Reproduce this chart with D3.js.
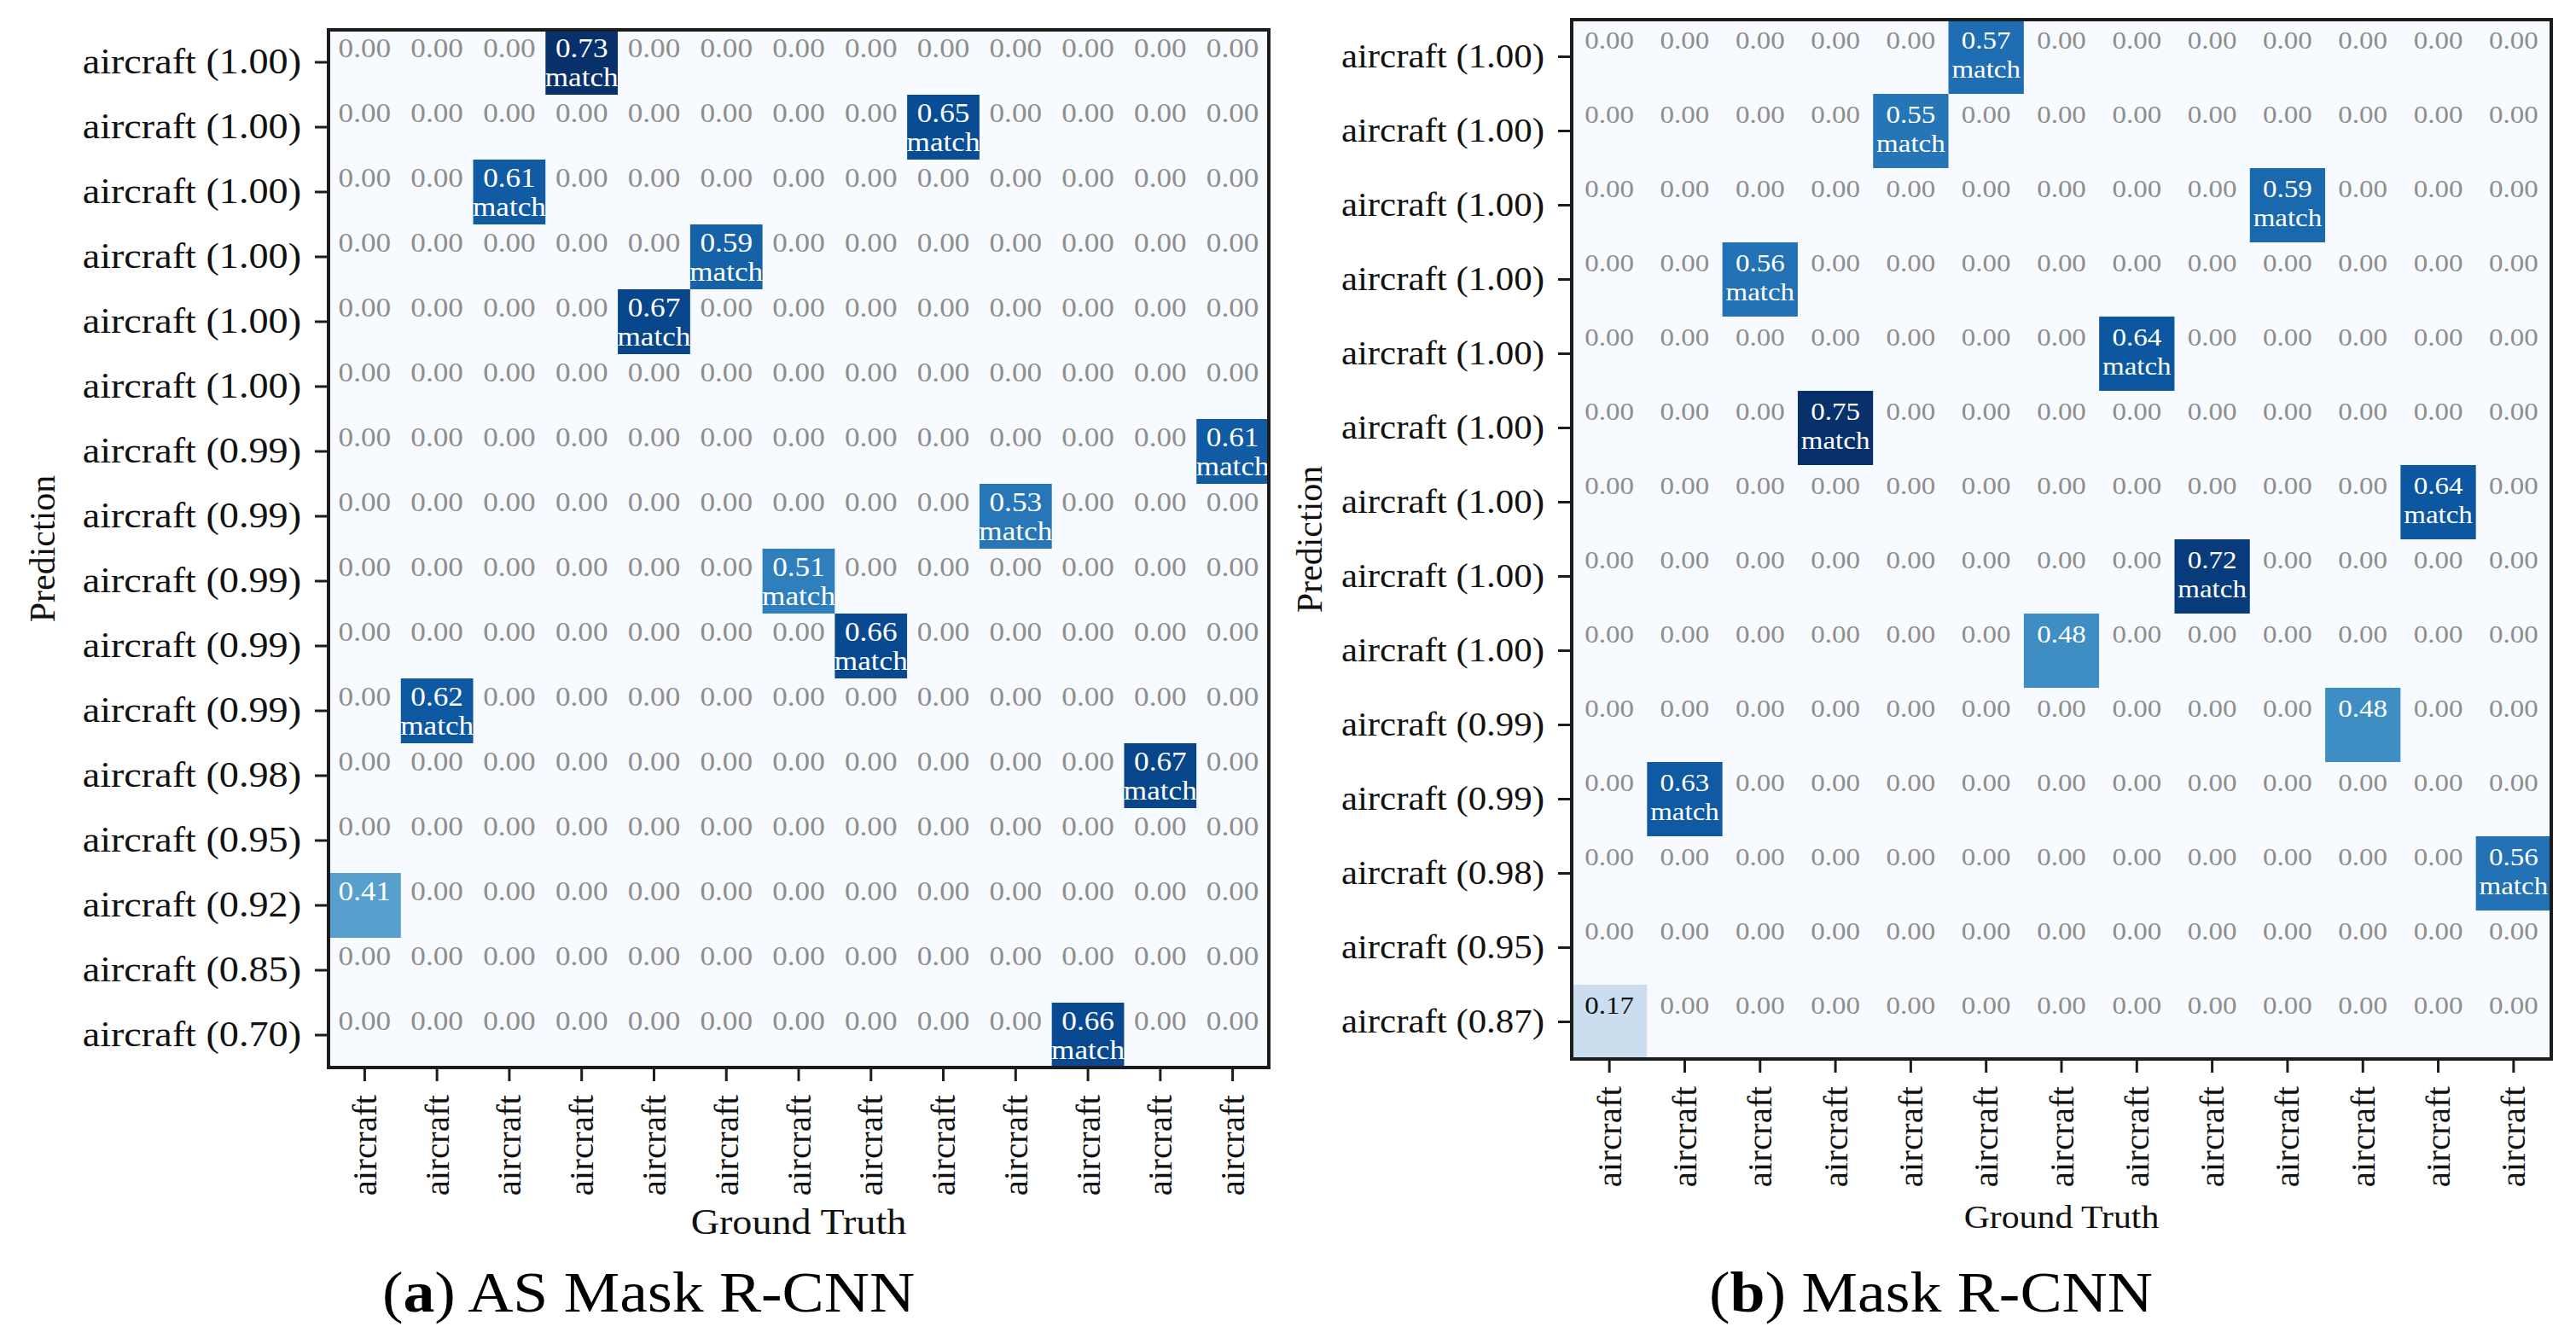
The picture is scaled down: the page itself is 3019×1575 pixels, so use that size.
<!DOCTYPE html>
<html>
<head>
<meta charset="utf-8">
<script src="https://cdn.jsdelivr.net/npm/d3@7"></script>
<style>
  html, body { margin: 0; padding: 0; background: #ffffff; }
  svg { display: block; }
  text { font-family: "Liberation Serif", "Times New Roman", serif; }
</style>
</head>
<body>
<svg id="chart" width="3019" height="1575"></svg>
<script>
// ---------------- DATA ----------------
// Panel (a) AS Mask R-CNN: prediction rows (confidence), 13 ground-truth columns
const aRowLabels = ["aircraft (1.00)","aircraft (1.00)","aircraft (1.00)","aircraft (1.00)","aircraft (1.00)","aircraft (1.00)",
  "aircraft (0.99)","aircraft (0.99)","aircraft (0.99)","aircraft (0.99)","aircraft (0.99)","aircraft (0.98)",
  "aircraft (0.95)","aircraft (0.92)","aircraft (0.85)","aircraft (0.70)"];
// column index of the single non-zero IoU in each row (null = no overlap)
const aHitCol = [3, 8, 2, 5, 4, null, 12, 9, 6, 7, 1, 11, null, 0, null, 10];
const aHitVal = [0.73, 0.65, 0.61, 0.59, 0.67, null, 0.61, 0.53, 0.51, 0.66, 0.62, 0.67, null, 0.41, null, 0.66];

// Panel (b) Mask R-CNN
const bRowLabels = ["aircraft (1.00)","aircraft (1.00)","aircraft (1.00)","aircraft (1.00)","aircraft (1.00)","aircraft (1.00)",
  "aircraft (1.00)","aircraft (1.00)","aircraft (1.00)","aircraft (0.99)","aircraft (0.99)","aircraft (0.98)",
  "aircraft (0.95)","aircraft (0.87)"];
const bHitCol = [5, 4, 9, 2, 7, 3, 11, 8, 6, 10, 1, 12, null, 0];
const bHitVal = [0.57, 0.55, 0.59, 0.56, 0.64, 0.75, 0.64, 0.72, 0.48, 0.48, 0.63, 0.56, null, 0.17];

const colLabels = ["aircraft","aircraft","aircraft","aircraft","aircraft","aircraft","aircraft",
  "aircraft","aircraft","aircraft","aircraft","aircraft","aircraft"];
const IOU_THRESHOLD = 0.5;   // cells at/above this get the "match" tag
const xAxisTitle = "Ground Truth";
const yAxisTitle = "Prediction";
const captions = [{tag: "a", text: " AS Mask R-CNN"}, {tag: "b", text: " Mask R-CNN"}];

// ---------------- DRAW ----------------
const svg = d3.select("#chart");
const SX = 1.1;  // horizontal stretch of the reference's lettering

function buildMatrix(hitCol, hitVal, nRows, nCols) {
  const cells = [];
  for (let r = 0; r < nRows; r++) {
    for (let c = 0; c < nCols; c++) {
      const v = (hitCol[r] === c) ? hitVal[r] : 0;
      cells.push({r, c, v});
    }
  }
  return cells;
}

function panel(cfg) {
  const g = svg.append("g");
  const nR = cfg.rows.length, nC = colLabels.length;
  const x = d3.scaleBand().domain(d3.range(nC)).range([cfg.x0, cfg.x1]).padding(0);
  const y = d3.scaleBand().domain(d3.range(nR)).range([cfg.y0, cfg.y1]).padding(0);
  const cells = buildMatrix(cfg.hitCol, cfg.hitVal, nR, nC);
  const vmax = d3.max(cfg.hitVal.filter(v => v != null));
  const blues = d3.schemeBlues[9];
  const color = d3.scaleLinear()
    .domain(blues.map((_, i) => i / (blues.length - 1) * vmax))
    .range(blues).clamp(true);

  // cells
  g.selectAll("rect.cell").data(cells).join("rect")
    .attr("class", "cell")
    .attr("x", d => x(d.c)).attr("y", d => y(d.r))
    .attr("width", x.bandwidth() + 0.5).attr("height", y.bandwidth() + 0.5)
    .attr("fill", d => color(d.v));

  const txtColor = d => d.v === 0 ? "#8e8e8e" : (d.v > vmax / 2 ? "#ffffff" : "#111111");

  // value labels
  g.selectAll("g.val").data(cells).join("g")
    .attr("class", "val")
    .attr("transform", d => `translate(${x(d.c) + x.bandwidth() / 2},${y(d.r) + y.bandwidth() * cfg.valPos}) scale(${SX},1)`)
    .append("text")
    .attr("text-anchor", "middle").attr("dominant-baseline", "central")
    .attr("font-size", cfg.cellFont)
    .attr("fill", txtColor)
    .text(d => d.v.toFixed(2));

  // "match" tags
  g.selectAll("g.match").data(cells.filter(d => d.v >= IOU_THRESHOLD)).join("g")
    .attr("class", "match")
    .attr("transform", d => `translate(${x(d.c) + x.bandwidth() / 2},${y(d.r) + y.bandwidth() * cfg.matchPos}) scale(${SX},1)`)
    .append("text")
    .attr("text-anchor", "middle").attr("dominant-baseline", "central")
    .attr("font-size", cfg.cellFont)
    .attr("fill", txtColor)
    .text("match");

  // frame
  g.append("rect")
    .attr("x", cfg.x0).attr("y", cfg.y0)
    .attr("width", cfg.x1 - cfg.x0).attr("height", cfg.y1 - cfg.y0)
    .attr("fill", "none").attr("stroke", "#1c1c1c").attr("stroke-width", 4);

  // y axis
  const yAx = g.append("g").attr("transform", `translate(${cfg.x0 - 2},0)`)
    .call(d3.axisLeft(y).tickSize(14).tickPadding(16).tickFormat(i => cfg.rows[i]));
  yAx.select(".domain").remove();
  yAx.selectAll(".tick line").attr("stroke", "#1c1c1c").attr("stroke-width", 3);
  yAx.selectAll(".tick text")
    .attr("font-size", cfg.yTickFont).attr("fill", "#111")
    .attr("x", -(14 + 16) / SX).attr("dy", "0.32em")
    .attr("transform", `scale(${SX},1)`);

  // x axis
  const xAx = g.append("g").attr("transform", `translate(0,${cfg.y1 + 2})`)
    .call(d3.axisBottom(x).tickSize(14).tickPadding(16).tickFormat(i => colLabels[i]));
  xAx.select(".domain").remove();
  xAx.selectAll(".tick line").attr("stroke", "#1c1c1c").attr("stroke-width", 3);
  xAx.selectAll(".tick text")
    .attr("font-size", cfg.xTickFont).attr("fill", "#111")
    .attr("text-anchor", "end")
    .attr("transform", `rotate(-90)`)
    .attr("x", -30).attr("y", 0).attr("dy", "0.33em");

  // axis titles
  g.append("g")
    .attr("transform", `translate(${(cfg.x0 + cfg.x1) / 2},${cfg.xTitleY}) scale(${SX},1)`)
    .append("text").attr("text-anchor", "middle")
    .attr("font-size", cfg.xTitleFont).attr("fill", "#111").text(xAxisTitle);

  g.append("text")
    .attr("transform", `translate(${cfg.yTitleX},${(cfg.y0 + cfg.y1) / 2}) rotate(-90)`)
    .attr("text-anchor", "middle").attr("dominant-baseline", "central")
    .attr("font-size", 42).attr("fill", "#111").text(yAxisTitle);

  // caption
  const cap = g.append("g")
    .attr("transform", `translate(${cfg.capX},1537) scale(${SX},1)`)
    .append("text").attr("text-anchor", "middle")
    .attr("font-size", 67).attr("fill", "#000");
  cap.append("tspan").text("(");
  cap.append("tspan").attr("font-weight", "bold").text(cfg.caption.tag);
  cap.append("tspan").text(")" + cfg.caption.text);
}

panel({
  rows: aRowLabels, hitCol: aHitCol, hitVal: aHitVal,
  x0: 385, x1: 1487, y0: 35, y1: 1251,
  valPos: 0.28, matchPos: 0.72, cellFont: 32,
  yTickFont: 42, xTickFont: 41, xTitleFont: 42, xTitleY: 1446, yTitleX: 50,
  capX: 760, caption: captions[0]
});

panel({
  rows: bRowLabels, hitCol: bHitCol, hitVal: bHitVal,
  x0: 1842, x1: 2990, y0: 23, y1: 1241,
  valPos: 0.28, matchPos: 0.67, cellFont: 30,
  yTickFont: 39, xTickFont: 41, xTitleFont: 38, xTitleY: 1439, yTitleX: 1535,
  capX: 2263, caption: captions[1]
});
</script>
</body>
</html>
